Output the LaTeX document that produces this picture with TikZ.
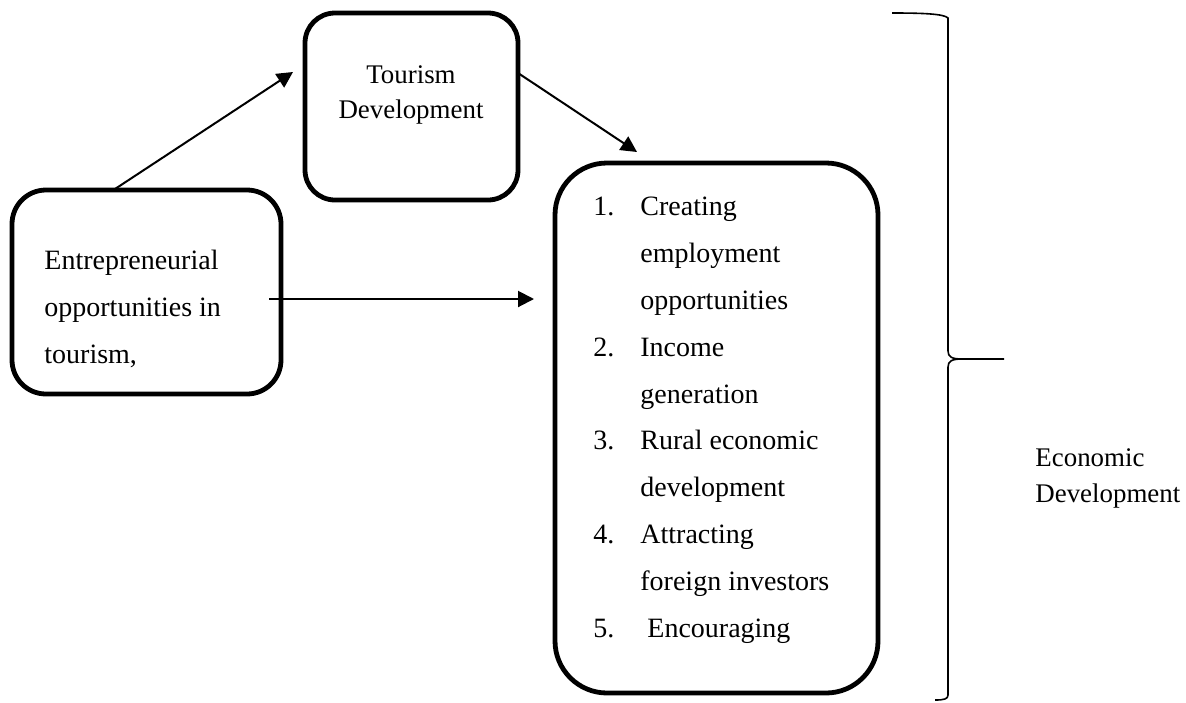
\documentclass[tikz,border=0pt]{standalone}
\usepackage{fontspec}
\setmainfont{Liberation Serif}
\usetikzlibrary{arrows.meta}
\tikzset{
  box/.style={draw, line width=2.4pt, rounded corners=#1, inner sep=0pt},
  box/.default=15pt,
  arr/.style={draw, line width=1pt, -{Triangle[length=8pt,width=8pt]}},
  bracepath/.style={draw, line width=0.8pt},
  timestxt/.style={inner sep=0pt, font=\fontsize{13.45}{16}\selectfont},
  camtxt/.style={inner sep=0pt, anchor=base west, font=\fontsize{14}{16}\selectfont},
}
\begin{document}
\begin{tikzpicture}[x=0.5pt,y=-0.5pt]
\useasboundingbox (0,0) rectangle (1186,702);

% boxes
\node[box=15pt, minimum width=106.5pt, minimum height=93.5pt] (tour) at (411.5,106.5) {};
\node[box=17pt, minimum width=134.5pt, minimum height=102pt] (ent) at (146.5,292) {};
\node[box=26pt, minimum width=161.5pt, minimum height=265pt] (big) at (716.5,428) {};

% texts
\node[timestxt, anchor=base] (tour1) at (411,83) {Tourism};
\node[timestxt, anchor=base] (tour2) at (411,118) {Development};

\node[camtxt] (ent1) at (44,269) {Entrepreneurial};
\node[camtxt] (ent2) at (44,316) {opportunities in};
\node[camtxt] (ent3) at (44,363) {tourism,};

\node[camtxt] (n1) at (593,215) {1.};
\node[camtxt] (l1) at (640,215) {Creating};
\node[camtxt] (l2) at (640,262) {employment};
\node[camtxt] (l3) at (640,309) {opportunities};
\node[camtxt] (n2) at (593,356) {2.};
\node[camtxt] (l4) at (640,356) {Income};
\node[camtxt] (l5) at (640,403) {generation};
\node[camtxt] (n3) at (593,449) {3.};
\node[camtxt] (l6) at (640,449) {Rural economic};
\node[camtxt] (l7) at (640,496) {development};
\node[camtxt] (n4) at (593,543) {4.};
\node[camtxt] (l8) at (640,543) {Attracting};
\node[camtxt] (l9) at (640,590) {foreign investors};
\node[camtxt] (n5) at (593,637) {5.};
\node[camtxt] (l10) at (647,637) {Encouraging};

\node[timestxt, anchor=base west] (eco1) at (1035,466) {Economic};
\node[timestxt, anchor=base west] (eco2) at (1035,502) {Development};

% connectors
\coordinate (a1s) at (115,189);
\coordinate (a1e) at (293,72);
\coordinate (a2s) at (518,73);
\coordinate (a2e) at (637,152);
\coordinate (a3s) at (269,299);
\coordinate (a3e) at (534,299);
\draw[arr] (a1s) -- (a1e);
\draw[arr] (a2s) -- (a2e);
\draw[arr] (a3s) -- (a3e);

% brace
\coordinate (btip) at (1004,359);
\draw[bracepath] (892,13) .. controls (925,13) and (944,14) .. (948,18)
  -- (948,351) .. controls (948,357) and (952,359) .. (962,359) -- (btip);
\draw[bracepath] (962,359) .. controls (952,359) and (948,361) .. (948,367)
  -- (948,695) .. controls (948,699) and (944,700) .. (935,700);
\end{tikzpicture}
\end{document}
